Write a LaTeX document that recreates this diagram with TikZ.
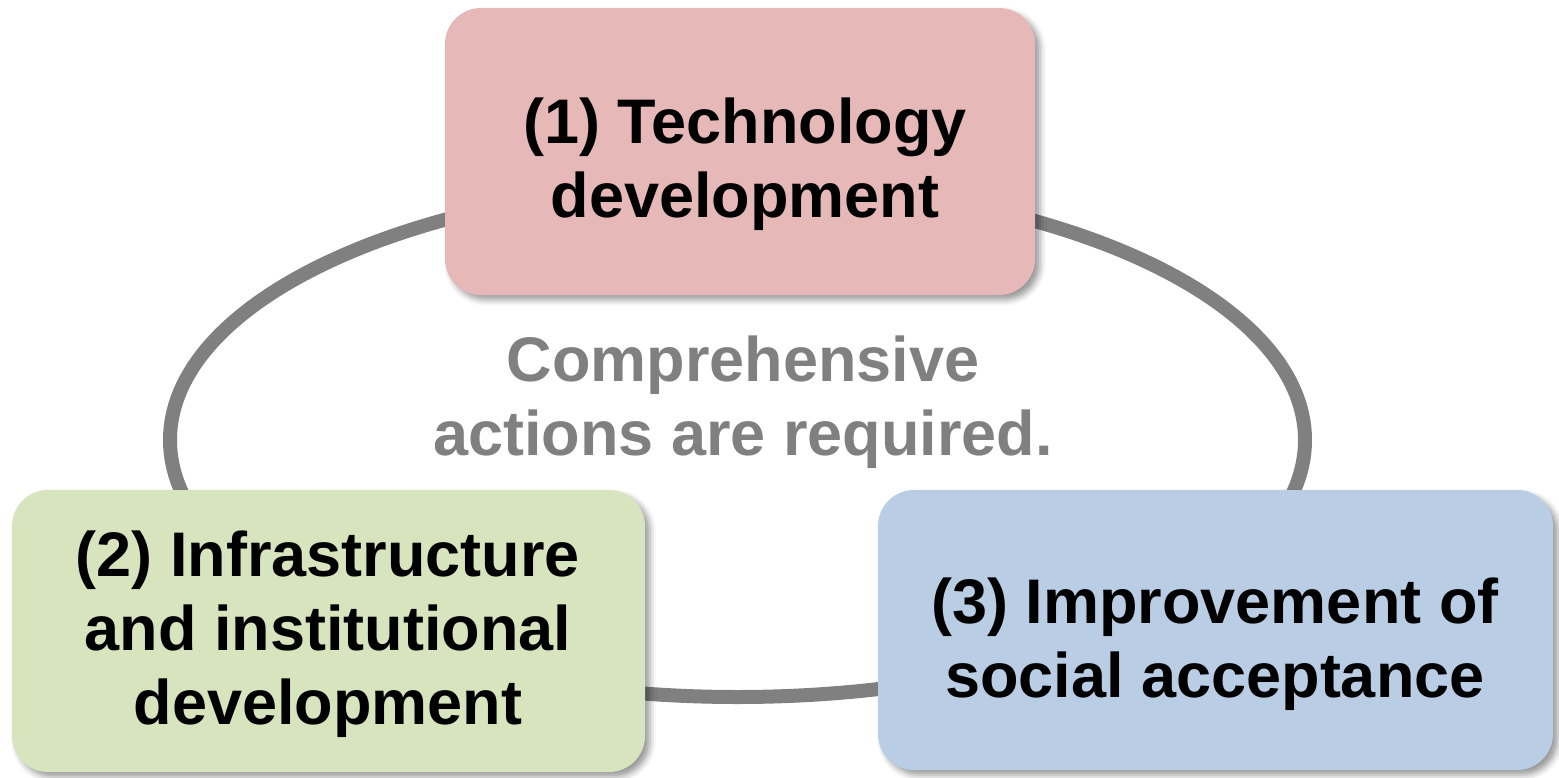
\documentclass[tikz,border=0pt]{standalone}
\usepackage{fontspec}
\setmainfont{Liberation Sans}
\usepackage{xcolor}
\usetikzlibrary{shapes.geometric,shadows.blur}
\definecolor{techpink}{HTML}{E6B9B8}
\definecolor{infragreen}{HTML}{D7E4BD}
\definecolor{socialblue}{HTML}{B9CDE5}
\definecolor{ringgray}{HTML}{808080}
\tikzset{
    pillar/.style={rounded corners=18pt, inner sep=0pt,
        blur shadow={shadow xshift=2.5pt, shadow yshift=-2.5pt, shadow blur radius=3pt, shadow opacity=40}},
    techbox/.style={pillar, fill=techpink},
    infrabox/.style={pillar, fill=infragreen},
    socialbox/.style={pillar, fill=socialblue},
    pillartext/.style={align=center, inner sep=0pt, font=\fontsize{31.5}{37}\selectfont\bfseries},
    ring/.style={ellipse, draw=ringgray, line width=7pt, inner sep=0pt},
    note/.style={pillartext, text=ringgray}
}
\begin{document}
\begin{tikzpicture}[x=0.5pt, y=-0.5pt]
    \useasboundingbox (0,0) rectangle (1559,777);

    % Ring behind the three boxes
    \node[ring, minimum width=567.5pt, minimum height=257pt] (cycle) at (737.5, 440) {};

    % Centre text
    \node[note] (required) at (743, 402) {Comprehensive\\actions are required.};

    % (1) Technology
    \node[techbox, minimum width=295pt, minimum height=143.5pt] (tech) at (740, 151.5) {};
    \node[pillartext] (tech-text) at (745, 164) {(1) Technology\\development};

    % (2) Infrastructure
    \node[infrabox, minimum width=316.5pt, minimum height=141pt] (infra) at (328.5, 631) {};
    \node[pillartext] (infra-text) at (328, 634) {(2) Infrastructure\\and institutional\\development};

    % (3) Social acceptance
    \node[socialbox, minimum width=337.5pt, minimum height=140pt] (social) at (1215.5, 630) {};
    \node[pillartext] (social-text) at (1215, 644) {(3) Improvement of\\social acceptance};
\end{tikzpicture}
\end{document}
